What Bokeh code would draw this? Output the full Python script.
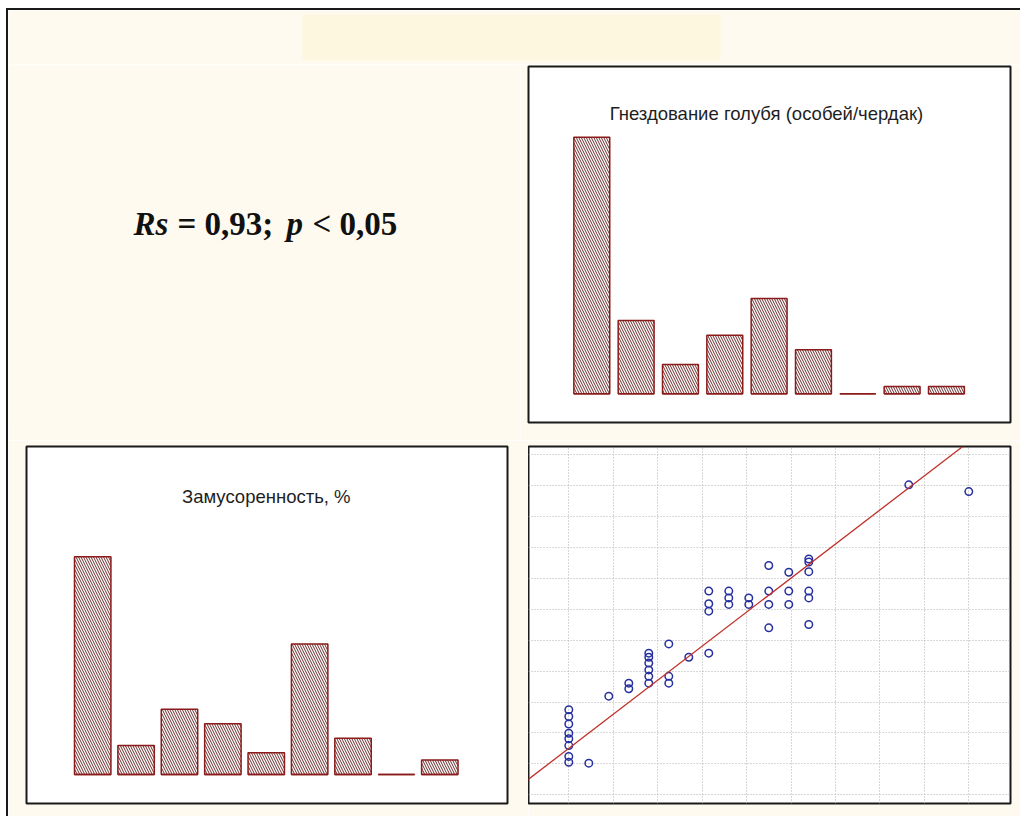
from bokeh.plotting import figure
from bokeh.models import Label, Slope, FixedTicker, Div, Range1d
from bokeh.layouts import column, row
from bokeh.embed import file_html
from bokeh.resources import INLINE

# ---------------- data ----------------
bins = [1, 2, 3, 4, 5, 6, 7, 8, 9]
pigeon_counts = [35, 10, 4, 8, 13, 6, 0, 1, 1]
litter_counts = [30, 4, 9, 7, 3, 18, 5, 0, 2]

scatter_x = ([0] * 8 + [1] + [2] + [3] * 2 + [4] * 6 + [5] * 3 + [6] + [7] * 4 +
             [8] * 3 + [9] * 2 + [10] * 4 + [11] * 3 + [12] * 6 + [17] + [20])
scatter_y = [1.75, 1.53, 1.29, 0.99, 0.81, 0.59, 0.24, 0.05,
             0.02,
             2.19,
             2.61, 2.43,
             3.58, 3.45, 3.26, 3.04, 2.83, 2.61,
             3.88, 2.83, 2.61,
             3.45,
             5.59, 5.18, 4.94, 3.58,
             5.59, 5.37, 5.16,
             5.37, 5.16,
             6.42, 5.59, 5.16, 4.40,
             6.20, 5.59, 5.16,
             6.63, 6.53, 6.22, 5.59, 5.37, 4.51,
             9.03,
             8.81]
fit_slope = 0.496
fit_intercept = 0.50

title_pigeon = "Гнездование голубя (особей/чердак)"
title_litter = "Замусоренность, %"
stat_parts = ["Rs", "= 0,93;", "p", "< 0,05"]

# ---------------- styles ----------------
CREAM = "#fefaf0"
PALE_YELLOW = "#fcf7de"
FRAME = "#1a1a1a"
BAR_LINE = "#8b1a1a"
HATCH = "#6a2c2c"


def base_fig(w, h, xr, yr, mb):
    p = figure(width=w, height=h, x_range=Range1d(*xr), y_range=Range1d(*yr),
               toolbar_location=None, output_backend="svg",
               x_axis_location=None, y_axis_location=None,
               min_border_left=mb[0], min_border_right=mb[1],
               min_border_top=mb[2], min_border_bottom=mb[3])
    p.border_fill_color = CREAM
    p.outline_line_color = None
    p.xgrid.visible = False
    p.ygrid.visible = False
    return p


def hist_panel(counts, title, w, h, mb, xr, yr, title_pos, bar_w):
    p = base_fig(w, h, xr, yr, mb)
    p.background_fill_color = "white"
    p.outline_line_color = FRAME
    p.outline_line_width = 2
    p.vbar(x=bins, top=counts, bottom=0, width=bar_w, fill_color="white",
           line_color=BAR_LINE, line_width=1.5,
           hatch_pattern="\\", hatch_color=HATCH, hatch_scale=5, hatch_weight=1)
    p.segment(x0=[b - bar_w / 2 for b in bins], x1=[b + bar_w / 2 for b in bins],
              y0=[0] * len(bins), y1=[0] * len(bins),
              line_color=BAR_LINE, line_width=1.5)
    p.add_layout(Label(x=title_pos[0], y=title_pos[1], text=title,
                       text_font="Liberation Sans", text_font_size="18.5px",
                       text_color="#1e1e1e", text_align="center",
                       text_baseline="middle"))
    return p


# top strip with pale yellow block
strip = base_fig(1012, 54, (0, 1012), (0, 54), (0, 0, 0, 0))
strip.background_fill_color = CREAM
strip.quad(left=[294], right=[712], bottom=[4], top=[50],
           fill_color=PALE_YELLOW, line_color=None)

# top-left text area
left_text = base_fig(512, 376, (0, 512), (0, 376), (0, 0, 0, 0))
left_text.background_fill_color = CREAM
text_x = [125, 169, 278, 304]
text_styles = ["bold italic", "bold", "bold italic", "bold"]
for s, tx, st in zip(stat_parts, text_x, text_styles):
    left_text.add_layout(Label(x=tx, y=210, text=s, text_font="Liberation Serif",
                               text_font_size="33px", text_font_style=st,
                               text_color="#111111", text_align="left",
                               text_baseline="alphabetic"))

# top-right histogram (pigeon nesting)
pig = hist_panel(pigeon_counts, title_pigeon, 500, 376, (8, 10, 2, 18),
                 (-0.428, 10.445), (-3.92, 44.65), (4.94, 38.2), 0.81)

# bottom-left histogram (litter)
lit = hist_panel(litter_counts, title_litter, 520, 376, (18, 21, 5, 13),
                 (-0.526, 10.56), (-3.98, 45.19), (5.0, 38.3), 0.84)

# scatter
sc = base_fig(492, 376, (-2.015, 22.085), (-1.285, 10.27), (0, 10, 6, 13))
sc.background_fill_color = "white"
sc.outline_line_color = FRAME
sc.outline_line_width = 2
sc.xgrid.visible = True
sc.ygrid.visible = True
sc.xgrid.ticker = FixedTicker(ticks=[i * 20 / 9 for i in range(10)])
sc.ygrid.ticker = FixedTicker(ticks=list(range(-1, 11)))
sc.grid.grid_line_color = "#b0b0b0"
sc.grid.grid_line_dash = "1 2"
sc.grid.grid_line_width = 1
sc.add_layout(Slope(gradient=fit_slope, y_intercept=fit_intercept,
                    line_color="#c0302a", line_width=1.3))
sc.scatter(x=scatter_x, y=scatter_y, marker="circle", size=7.5,
           fill_color=None, line_color="#2630a0", line_width=1.5)

top_bar = Div(width=1014, height=2, margin=0, styles={"background-color": FRAME})
left_bar = Div(width=2, height=806, margin=0, styles={"background-color": FRAME})

inner = column(strip, row(left_text, pig, spacing=0), row(lit, sc, spacing=0), spacing=0)
layout = column(top_bar, row(left_bar, inner, spacing=0), spacing=0, margin=(8, 0, 0, 6))

open("out.html", "w").write(file_html(layout, INLINE))
